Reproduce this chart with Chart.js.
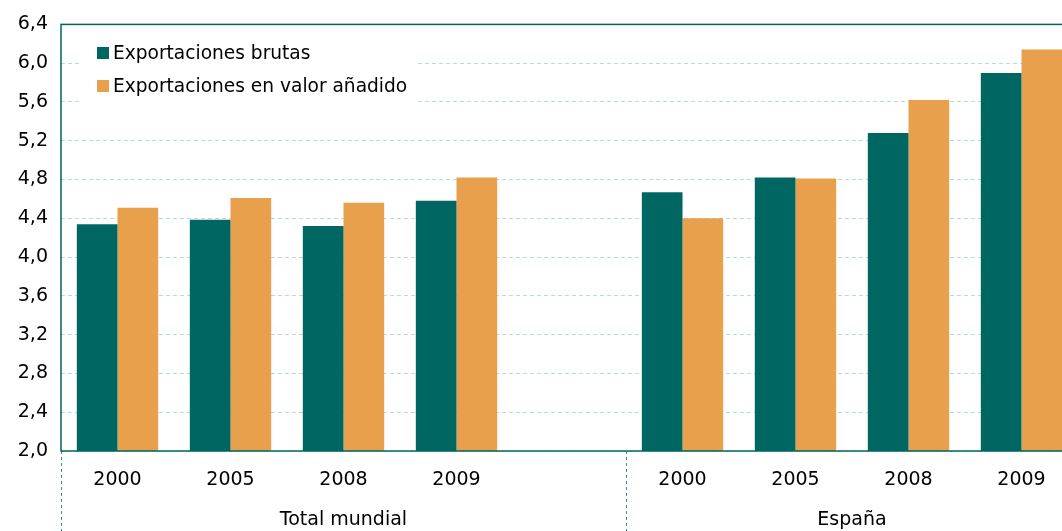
<!DOCTYPE html>
<html>
<head>
<meta charset="utf-8">
<script src="https://cdn.jsdelivr.net/npm/chart.js@4.4.1/dist/chart.umd.min.js"></script>
<style>
  html, body { margin: 0; padding: 0; overflow: hidden; background: #fff; }
  #wrap { width: 1090px; height: 531px; }
</style>
</head>
<body>
<div id="wrap"><canvas id="chart"></canvas></div>
<script>
const years = ["2000", "2005", "2008", "2009", "", "2000", "2005", "2008", "2009"];
const brutas = [4.34, 4.385, 4.32, 4.58, null, 4.67, 4.82, 5.28, 5.90];
const valorAnadido = [4.51, 4.61, 4.56, 4.82, null, 4.40, 4.81, 5.62, 6.14];
const groupNames = ["Total mundial", "España"];
const groupStart = [0, 5]; // first index of each group
const groupEnd = [4, 8]; // last index of each group

const TEAL = "#006662";
const ORANGE = "#E9A04D";
const FONT = "'DejaVu Sans', sans-serif";

function fmt(v) {
  return v.toFixed(1).replace(".", ",");
}

// frame, separators, group names and the legend box
const extras = {
  id: "extras",
  afterDraw(chart) {
    const ctx = chart.ctx;
    const a = chart.chartArea;
    const x = chart.scales.x;
    const half = (x.getPixelForValue(1) - x.getPixelForValue(0)) / 2;
    ctx.save();

    // dashed separators under the axis
    ctx.strokeStyle = "#3a8c88";
    ctx.lineWidth = 1;
    ctx.setLineDash([3, 3]);
    const seps = [a.left];
    groupEnd.forEach(i => seps.push(x.getPixelForValue(i) + half));
    seps.forEach(sx => {
      ctx.beginPath();
      ctx.moveTo(Math.round(sx) + 0.5, a.bottom);
      ctx.lineTo(Math.round(sx) + 0.5, chart.height);
      ctx.stroke();
    });
    ctx.setLineDash([]);

    // group names
    ctx.fillStyle = "#000";
    ctx.font = "19px " + FONT;
    ctx.textAlign = "center";
    ctx.textBaseline = "middle";
    groupNames.forEach((name, g) => {
      const l = x.getPixelForValue(groupStart[g]) - half;
      const r = x.getPixelForValue(groupEnd[g]) + half;
      ctx.fillText(name, (l + r) / 2, 520);
    });

    // plot frame
    ctx.strokeStyle = TEAL;
    ctx.lineWidth = 1.5;
    ctx.strokeRect(a.left, a.top, a.right - a.left, a.bottom - a.top);

    // legend inside the plot
    ctx.fillStyle = "#fff";
    ctx.fillRect(82, 32, 334, 72);
    ctx.font = "18.6px " + FONT;
    ctx.textAlign = "left";
    chart.data.datasets.forEach((ds, i) => {
      const y = 53 + i * 33;
      ctx.fillStyle = ds.backgroundColor;
      ctx.fillRect(97, y - 6, 12, 12);
      ctx.fillStyle = "#000";
      ctx.fillText(ds.label, 113, y + 1);
    });
    ctx.restore();
  }
};

new Chart(document.getElementById("chart"), {
  type: "bar",
  data: {
    labels: years,
    datasets: [
      { label: "Exportaciones brutas", data: brutas, backgroundColor: TEAL },
      { label: "Exportaciones en valor añadido", data: valorAnadido, backgroundColor: ORANGE }
    ]
  },
  options: {
    responsive: true,
    maintainAspectRatio: false,
    animation: false,
    layout: { padding: { top: 23, right: 12, left: 0, bottom: 0 } },
    plugins: { legend: { display: false }, tooltip: { enabled: false } },
    datasets: { bar: { categoryPercentage: 0.72, barPercentage: 1.0 } },
    scales: {
      x: {
        grid: { display: false },
        border: { display: false },
        ticks: { color: "#000", font: { family: FONT, size: 19 }, padding: 10, maxRotation: 0 },
        afterFit(s) { s.height = 80; }
      },
      y: {
        min: 2.0,
        max: 6.4,
        border: { display: false, dash: [4, 3] },
        grid: { color: "#b9dcd9", drawTicks: false, lineWidth: 1 },
        ticks: {
          stepSize: 0.4,
          color: "#000",
          padding: 13,
          font: { family: FONT, size: 19 },
          callback: v => fmt(v)
        },
        afterFit(s) { s.width = 61; }
      }
    }
  },
  plugins: [extras]
});
</script>
</body>
</html>
